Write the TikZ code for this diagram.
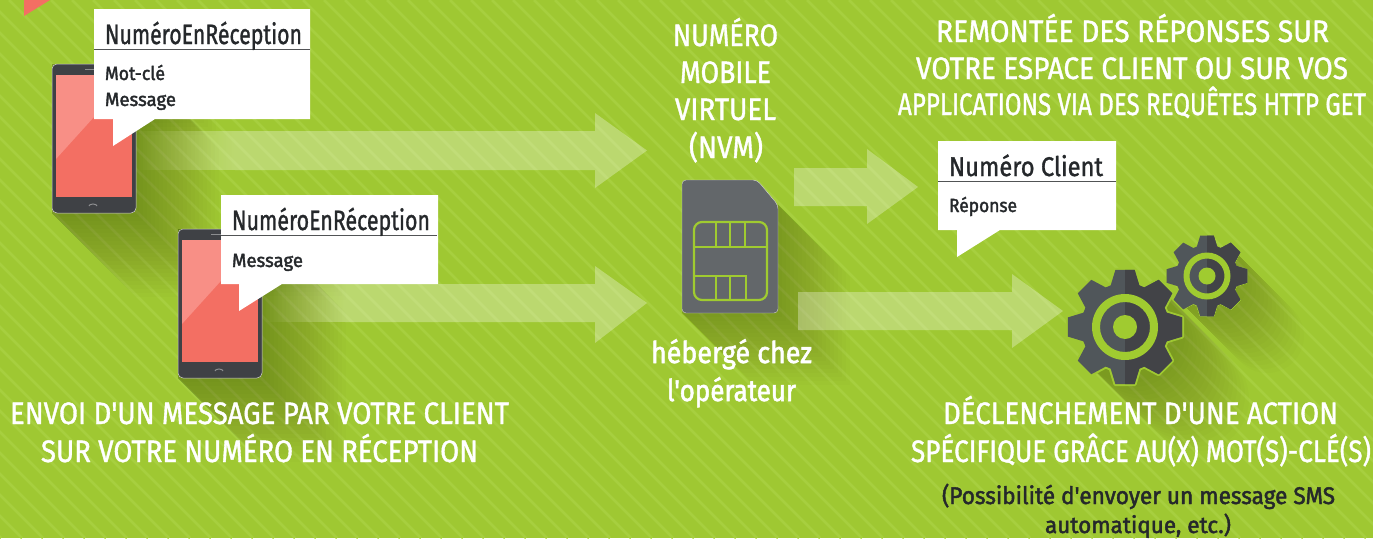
\documentclass[tikz,border=0pt]{standalone}
\usepackage{graphicx}
\usepackage{fontspec}
\newfontfamily\tf{Fira Sans}[Ligatures=NoCommon,FakeBold=1.3]
\newfontfamily\tfb{Fira Sans}[Ligatures=NoCommon,FakeBold=2.0]
\usetikzlibrary{fadings}
\definecolor{bgreen}{HTML}{9FC832}
\definecolor{sgreen}{HTML}{A7CF3F}
\definecolor{accent}{HTML}{A0CB30}
\definecolor{phonedark}{HTML}{3F4145}
\definecolor{screenred}{HTML}{F36F63}
\definecolor{screenlight}{HTML}{F88F86}
\definecolor{simgray}{HTML}{63676A}
\definecolor{gearlight}{HTML}{50565A}
\definecolor{geardark}{HTML}{424347}
\definecolor{inkdark}{HTML}{25282B}
\tikzset{
  x=1pt,y=-1pt,
  bubblebox/.style={fill=white,draw=none},
  rulebar/.style={draw=inkdark!80,line width=1pt},
  arrowfill/.style={fill=white,fill opacity=.3,draw=none},
  simline/.style={draw=accent,line width=2.2pt},
  labeltext/.style={anchor=base west,inner sep=0pt,outer sep=0pt},
}
\tikzfading[name=fadein,left color=transparent!100,right color=transparent!0]
% name x baseline width size colour text
\newcommand\lbl[7]{\node[labeltext,text=#6] (#1) at (#2,#3) {\resizebox{#4pt}{\height}{\tf\fontsize{#5pt}{#5pt}\selectfont #7}};}
\newcommand\lbs[7]{\node[labeltext,text=#6] (#1) at (#2,#3) {\resizebox{#4pt}{\height}{\tfb\fontsize{#5pt}{#5pt}\selectfont #7}};}
\newcommand\longshadow[5]{%
  \foreach \d in {4,8,...,#5}{
    \fill[black,fill opacity=.012] (#3,#2) -- (#3+\d,#2+\d) -- (#3+\d,#4+\d) -- (#1+\d,#4+\d) -- (#1,#4) -- (#1,#2) -- cycle;
  }}
\newcommand\roundshadow[4]{%
  \foreach \d in {4,8,...,#4}{
    \fill[black,fill opacity=.012] (#1+.707*#3,#2-.707*#3) -- (#1+.707*#3+\d,#2-.707*#3+\d) arc (-45:135:#3) -- (#1-.707*#3,#2+.707*#3) -- cycle;
  }}
\newcommand\gearshape{(90+19:44) \foreach \a in {0,45,...,315}{
      -- (90-\a+19:44) -- (90-\a+9.5:58) -- (90-\a-9.5:58) -- (90-\a-19:44)
    } -- cycle}
\newcommand\gear[7]{% cx cy R ringout ringin hub halo
  \begin{scope}[shift={(#1,#2)},scale=#3/58]
    \draw[bgreen,line width=#7pt,line join=round] \gearshape;
    \fill[gearlight] \gearshape;
    \begin{scope}
      \clip (0,-70) rectangle (70,70);
      \fill[geardark] \gearshape;
    \end{scope}
  \end{scope}
  \fill[accent,even odd rule] (#1,#2) circle[radius=#4] (#1,#2) circle[radius=#5];
  \fill[accent] (#1,#2) circle[radius=#6];
}
\newcommand\phone[2]{% x y of top left
  \begin{scope}[shift={(#1,#2)}]
    \fill[phonedark,draw=white!75!phonedark,line width=.5pt,rounded corners=5pt] (0,0) rectangle (84,149);
    \fill[screenred] (4,11) rectangle (80,133);
    \fill[screenlight] (4,11) -- (80,11) -- (4,95) -- cycle;
    \draw[white!40!phonedark,line width=1pt] (33,5) -- (50,5);
    \draw[white!40!phonedark,line width=1pt] (37,142) arc (180:360:4 and 2);
  \end{scope}}
\newcommand\blockarrow[7]{% x0 xhead xtip ytop ybot headtop headbot
  \fill[arrowfill] (#1,#4) -- (#2,#4) -- (#2,#6) -- (#3,#4/2+#5/2) -- (#2,#7) -- (#2,#5) -- (#1,#5) -- cycle;}
\begin{document}
\begin{tikzpicture}
\useasboundingbox (0,0) rectangle (1373,538);
\clip (0,0) rectangle (1373,538);
\fill[bgreen] (0,0) rectangle (1373,538);
\foreach \i in {-600,-579,...,1400}{
  \draw[sgreen,line width=2.8pt] (\i,0) -- (\i+538,538);
}
% long shadows
\longshadow{52}{64}{135}{213}{84}
\longshadow{178}{229}{262}{378}{84}
\longshadow{120}{100}{200}{119}{16}
\longshadow{248}{265}{330}{284}{16}
\longshadow{682}{205}{778}{313}{72}
\roundshadow{1125}{327}{52}{72}
\roundshadow{1207}{276}{37}{60}
% block arrows
\fill[white,fill opacity=.3,path fading=fadein] (135,131) rectangle (235,170);
\blockarrow{235}{595}{647}{131}{170}{113}{188}
\fill[white,fill opacity=.3,path fading=fadein] (262,284) rectangle (345,322);
\blockarrow{345}{595}{647}{284}{322}{266}{343}
\blockarrow{794}{867}{918}{168}{206}{149}{224}
\blockarrow{798}{1012}{1063}{292}{330}{274}{348}
% corner triangle
\fill[screenred] (24,0) -- (50,0) -- (24,16) -- cycle;
% phones
\phone{52}{64}
\phone{178}{229}
% bubbles
\fill[bubblebox] (94,9) rectangle (310,119) (113,119) -- (113,146) -- (155,119) -- cycle;
\draw[rulebar] (94,49) -- (310,49);
\fill[bubblebox] (221,195) rectangle (438,284) (239,284) -- (239,311) -- (282,284) -- cycle;
\draw[rulebar] (221,235) -- (437,235);
\fill[bubblebox] (938,141) rectangle (1116,230) (957,230) -- (957,257) -- (1000,230) -- cycle;
\draw[rulebar] (938,181) -- (1116,181);
% SIM
\fill[simgray,draw=white!70!simgray,line width=.4pt,rounded corners=4pt] (682,180) -- (757,180) -- (778,205) -- (778,313) -- (682,313) -- cycle;
\draw[simline,rounded corners=8pt] (694,222) rectangle (767,300);
\draw[simline] (694,247) -- (767,247) (694,276) -- (746,276) -- (746,300);
\draw[simline] (716,222) -- (716,247) (730,222) -- (730,247) (745,222) -- (745,247);
\draw[simline] (716,276) -- (716,300) (730,276) -- (730,300);
% gears
\gear{1207}{276}{41}{23.5}{17.5}{8.5}{0}
\gear{1125}{327}{58}{33}{25}{12}{4}
% bubble text
\lbl{t1}{105}{44}{197}{28}{inkdark}{NuméroEnRéception}
\lbs{t2}{105}{80}{60}{19}{inkdark}{Mot-clé}
\lbs{t3}{105}{106}{71}{19}{inkdark}{Message}
\lbl{t4}{232}{230}{198}{28}{inkdark}{NuméroEnRéception}
\lbs{t5}{232}{267}{71}{19}{inkdark}{Message}
\lbl{t6}{949}{176}{154}{27}{inkdark}{Numéro Client}
\lbs{t7}{949}{212}{68}{19}{inkdark}{Réponse}
% white titles
\lbl{n1}{673}{46}{105}{31}{white}{NUMÉRO}
\lbl{n2}{680}{83}{91}{31}{white}{MOBILE}
\lbl{n3}{675}{120}{101}{31}{white}{VIRTUEL}
\lbl{n4}{689}{158}{74}{31}{white}{(NVM)}
\lbl{r1}{936}{42}{393}{31}{white}{REMONTÉE DES RÉPONSES SUR}
\lbl{r2}{916}{79}{432}{31}{white}{VOTRE ESPACE CLIENT OU SUR VOS}
\lbl{r3}{898}{115}{468}{31}{white}{APPLICATIONS VIA DES REQUÊTES HTTP GET}
\lbl{l1}{10}{424}{499}{31}{white}{ENVOI D'UN MESSAGE PAR VOTRE CLIENT}
\lbl{l2}{41}{462}{437}{31}{white}{SUR VOTRE NUMÉRO EN RÉCEPTION}
\lbs{h1}{651}{363}{161}{30}{white}{hébergé chez}
\lbs{h2}{667}{401}{129}{30}{white}{l'opérateur}
\lbl{d1}{943}{424}{395}{31}{white}{DÉCLENCHEMENT D'UNE ACTION}
\lbl{d2}{911}{462}{460}{31}{white}{SPÉCIFIQUE GRÂCE AU(X) MOT(S)-CLÉ(S)}
\lbs{p1}{942}{504}{393}{24}{inkdark}{(Possibilité d'envoyer un message SMS}
\lbs{p2}{1045}{533}{186}{23}{inkdark}{automatique, etc.)}
\end{tikzpicture}
\end{document}
